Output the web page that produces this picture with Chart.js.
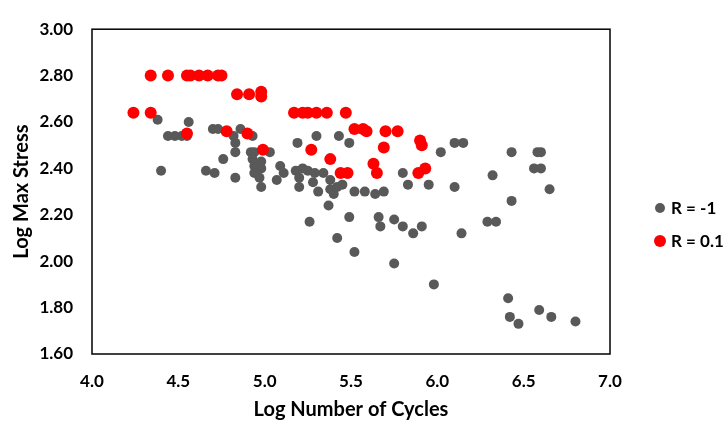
<!DOCTYPE html>
<html>
<head>
<meta charset="utf-8">
<script src="https://cdn.jsdelivr.net/npm/chart.js@4"></script>
<style>
  html, body { margin: 0; padding: 0; background: #fff; }
  #wrap { width: 724px; height: 422px; }
</style>
</head>
<body>
<div id="wrap"><canvas id="grafica_sn" width="724" height="422"></canvas></div>
<script>
// valores (log ciclos, log esfuerzo max)
const grisX = [4.38, 4.44, 4.48, 4.52, 4.55, 4.56, 4.40, 4.66, 4.71, 4.70, 4.73, 4.86, 4.82, 4.83, 4.83,
  4.76, 4.83, 4.93, 4.92, 4.94, 4.93, 4.98, 4.94, 4.98, 4.94, 4.97, 4.98, 5.03, 5.19, 5.30,
  5.43, 5.49, 5.09, 5.11, 5.07, 5.18, 5.22, 5.25, 5.29, 5.34, 5.20, 5.20, 5.28, 5.31, 5.38,
  5.38, 5.42, 5.45, 5.40, 5.52, 5.58, 5.64, 5.69, 5.37, 5.26, 5.49, 5.66, 5.67, 5.75, 5.80,
  5.86, 5.91, 5.80, 5.83, 5.95, 6.02, 6.10, 6.15, 6.10, 6.32, 6.14, 6.29, 6.34, 6.43, 6.58,
  6.60, 6.56, 6.60, 6.65, 6.43, 6.41, 6.42, 6.47, 6.59, 6.66, 6.80, 5.42, 5.52, 5.75, 5.98];
const grisY = [2.61, 2.54, 2.54, 2.54, 2.54, 2.60, 2.39, 2.39, 2.38, 2.57, 2.57, 2.57, 2.54, 2.51, 2.47,
  2.44, 2.36, 2.54, 2.47, 2.47, 2.44, 2.43, 2.41, 2.40, 2.38, 2.36, 2.32, 2.47, 2.51, 2.54,
  2.54, 2.51, 2.41, 2.38, 2.35, 2.39, 2.40, 2.39, 2.38, 2.38, 2.36, 2.32, 2.34, 2.30, 2.35,
  2.31, 2.32, 2.33, 2.29, 2.30, 2.30, 2.29, 2.30, 2.24, 2.17, 2.19, 2.19, 2.15, 2.18, 2.15,
  2.12, 2.15, 2.38, 2.33, 2.33, 2.47, 2.51, 2.51, 2.32, 2.37, 2.12, 2.17, 2.17, 2.47, 2.47,
  2.47, 2.40, 2.40, 2.31, 2.26, 1.84, 1.76, 1.73, 1.79, 1.76, 1.74, 2.10, 2.04, 1.99, 1.90];

const rojoX = [4.24, 4.34, 4.34, 4.44, 4.55, 4.57, 4.62, 4.67, 4.73, 4.75, 4.55, 4.84, 4.91, 4.98, 4.98,
  4.78, 4.90, 4.99, 5.17, 5.22, 5.25, 5.30, 5.36, 5.47, 5.52, 5.57, 5.59, 5.70, 5.77, 5.69,
  5.27, 5.38, 5.44, 5.48, 5.63, 5.65, 5.90, 5.91, 5.93, 5.89];
const rojoY = [2.64, 2.64, 2.80, 2.80, 2.80, 2.80, 2.80, 2.80, 2.80, 2.80, 2.55, 2.72, 2.72, 2.73, 2.71,
  2.56, 2.55, 2.48, 2.64, 2.64, 2.64, 2.64, 2.64, 2.64, 2.57, 2.57, 2.56, 2.56, 2.56, 2.49,
  2.48, 2.44, 2.38, 2.38, 2.42, 2.38, 2.52, 2.50, 2.40, 2.38];

const ticksX = [4.0, 4.5, 5.0, 5.5, 6.0, 6.5, 7.0];
const ticksY = [1.60, 1.80, 2.00, 2.20, 2.40, 2.60, 2.80, 3.00];

const fuente = "Lato";

function puntos(xs, ys) {
  return xs.map((x, i) => ({ x: x, y: ys[i] }));
}

// marco negro alrededor del area de la grafica
const marco = {
  id: 'marco',
  afterDraw(chart) {
    const a = chart.chartArea;
    const c = chart.ctx;
    c.save();
    c.strokeStyle = '#000';
    c.lineWidth = 1.5;
    c.strokeRect(a.left, a.top, a.right - a.left, a.bottom - a.top);
    c.restore();
  }
};

// leyenda a la derecha, dibujada a mano para fijar su lugar
const leyenda = {
  id: 'leyenda',
  afterDraw(chart) {
    const c = chart.ctx;
    const a = chart.chartArea;
    let y = 208;
    c.save();
    c.font = "bold 17px " + fuente;
    c.textBaseline = 'middle';
    c.textAlign = 'left';
    chart.data.datasets.forEach(ds => {
      c.fillStyle = ds.backgroundColor;
      c.beginPath();
      c.arc(a.right + 50, y, ds.pointRadius, 0, Math.PI * 2);
      c.fill();
      c.fillStyle = '#000';
      c.fillText(ds.label, a.right + 61, y + 1);
      y += 33;
    });
    c.restore();
  }
};

const ctx = document.getElementById("grafica_sn").getContext("2d");

window.chartSN = new Chart(ctx, {
  type: 'scatter',
  data: {
    datasets: [{
      label: 'R = -1',
      data: puntos(grisX, grisY),
      backgroundColor: '#595959',
      borderColor: '#595959',
      borderWidth: 0,
      pointRadius: 5,
      pointHoverRadius: 5,
      order: 2
    }, {
      label: 'R = 0.1',
      data: puntos(rojoX, rojoY),
      backgroundColor: '#ff0000',
      borderColor: '#ff0000',
      borderWidth: 0,
      pointRadius: 6,
      pointHoverRadius: 6,
      order: 1
    }]
  },
  options: {
    responsive: false,
    animation: false,
    devicePixelRatio: 1,
    layout: {
      padding: { top: 20, right: 114, bottom: 0, left: 0 }
    },
    scales: {
      x: {
        type: 'linear',
        min: 4.0,
        max: 7.0,
        afterFit: (scale) => { scale.height = 68; },
        afterBuildTicks: (scale) => { scale.ticks = ticksX.map(v => ({ value: v })); },
        grid: { display: false, drawTicks: false },
        border: { display: false },
        ticks: {
          padding: 17,
          color: '#000',
          font: { family: fuente, size: 17, weight: 'bold' },
          callback: (v) => Number(v).toFixed(1)
        },
        title: {
          display: true,
          text: 'Log Number of Cycles',
          color: '#000',
          font: { family: fuente, size: 20, weight: 'bold' },
          padding: { top: 0, bottom: 0 }
        }
      },
      y: {
        type: 'linear',
        min: 1.6,
        max: 3.0,
        afterFit: (scale) => { scale.width = 92; },
        afterBuildTicks: (scale) => { scale.ticks = ticksY.map(v => ({ value: v })); },
        grid: { display: false, drawTicks: false },
        border: { display: false },
        ticks: {
          padding: 19,
          color: '#000',
          font: { family: fuente, size: 17, weight: 'bold' },
          callback: (v) => Number(v).toFixed(2)
        },
        title: {
          display: true,
          text: 'Log Max Stress',
          color: '#000',
          font: { family: fuente, size: 20, weight: 'bold' },
          padding: { top: 10, bottom: 0 }
        }
      }
    },
    plugins: {
      legend: { display: false },
      tooltip: { enabled: false }
    }
  },
  plugins: [marco, leyenda]
});
</script>
</body>
</html>
